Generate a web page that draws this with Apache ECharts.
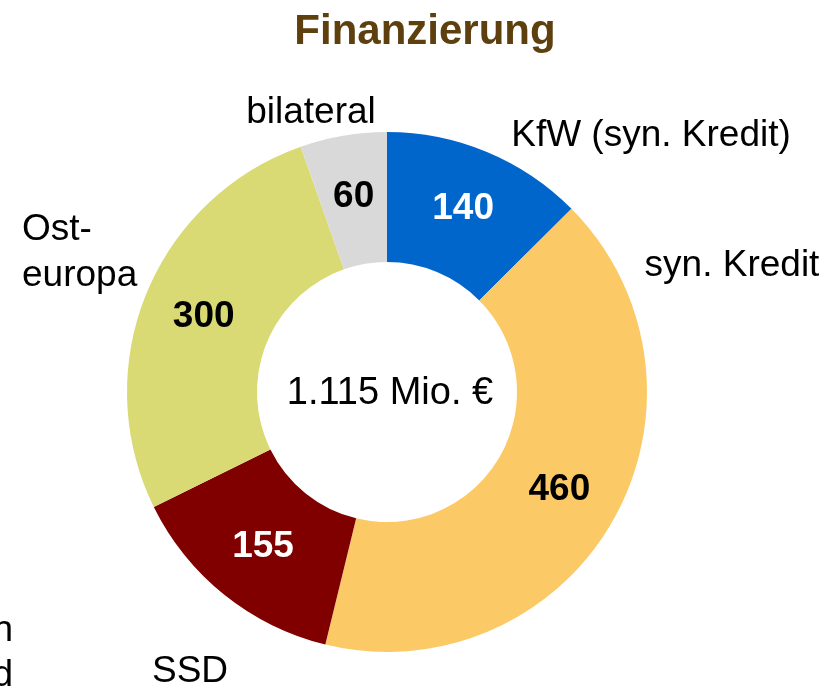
<!DOCTYPE html>
<html>
<head>
<meta charset="utf-8">
<script src="https://cdn.jsdelivr.net/npm/echarts@6/dist/echarts.min.js"></script>
<style>
  html, body { margin: 0; padding: 0; background: #fff; }
  #chart { width: 840px; height: 688px; }
</style>
</head>
<body>
<div id="chart"></div>
<script>
// Daten (Mio. €), im Uhrzeigersinn ab 12 Uhr
const categories = ['KfW (syn. Kredit)', 'syn. Kredit', 'SSD', 'Ost-\neuropa', 'bilateral']
const values = [140, 460, 155, 300, 60]
const colors = ['#0066CC', '#FBCA67', '#800000', '#D9DA73', '#D9D9D9']
const valueColors = ['#fff', '#000', '#fff', '#000', '#000']
const totalText = '1.115 Mio. €'

// Position der äußeren Beschriftungen
const namePos = [
  { x: 651, y: 136, align: 'center' },
  { x: 732, y: 266, align: 'center' },
  { x: 190, y: 672, align: 'center' },
  { x: 22, y: 253, align: 'left' },
  { x: 311, y: 113, align: 'center' }
]

const font = 'Liberation Sans, Arial, sans-serif'
const chart = echarts.init(document.getElementById('chart'))

const pieData = categories.map((name, i) => ({
  name,
  value: values[i],
  itemStyle: { color: colors[i] },
  label: { color: valueColors[i] }
}))

const option = {
  animation: false,
  title: {
    text: 'Finanzierung',
    left: 420,
    top: 6,
    textAlign: 'center',
    textStyle: { fontFamily: font, fontSize: 42, fontWeight: 'bold', color: '#5E3F0E' }
  },
  graphic: [
    {
      type: 'text', x: 390, y: 394,
      style: { text: totalText, fontFamily: font, fontSize: 38, fill: '#000', textAlign: 'center', textVerticalAlign: 'middle' }
    },
    // abgeschnittene Beschriftung des Nachbarcharts
    {
      type: 'text', x: 13, y: 631,
      style: { text: 'n', fontFamily: font, fontSize: 37, fill: '#000', textAlign: 'right', textVerticalAlign: 'middle' }
    },
    {
      type: 'text', x: 13, y: 676,
      style: { text: 'd', fontFamily: font, fontSize: 37, fill: '#000', textAlign: 'right', textVerticalAlign: 'middle' }
    }
  ],
  series: [
    {
      type: 'pie',
      center: [387, 392],
      radius: [130, 260],
      startAngle: 90,
      clockwise: true,
      silent: true,
      label: {
        show: true,
        position: 'inside',
        formatter: '{c}',
        fontFamily: font,
        fontSize: 37,
        fontWeight: 'bold'
      },
      labelLine: { show: false },
      data: pieData
    },
    {
      type: 'pie',
      center: [387, 392],
      radius: [130, 260],
      startAngle: 90,
      clockwise: true,
      silent: true,
      itemStyle: { color: 'rgba(0,0,0,0)' },
      label: {
        show: true,
        position: 'outside',
        formatter: '{b}',
        overflow: 'none',
        fontFamily: font,
        fontSize: 37,
        lineHeight: 46,
        color: '#000'
      },
      labelLine: { show: false },
      labelLayout: (p) => ({
        x: namePos[p.dataIndex].x,
        y: namePos[p.dataIndex].y,
        align: namePos[p.dataIndex].align,
        verticalAlign: 'middle'
      }),
      data: categories.map((name, i) => ({ name, value: values[i] }))
    }
  ]
}

chart.setOption(option)
</script>
</body>
</html>
